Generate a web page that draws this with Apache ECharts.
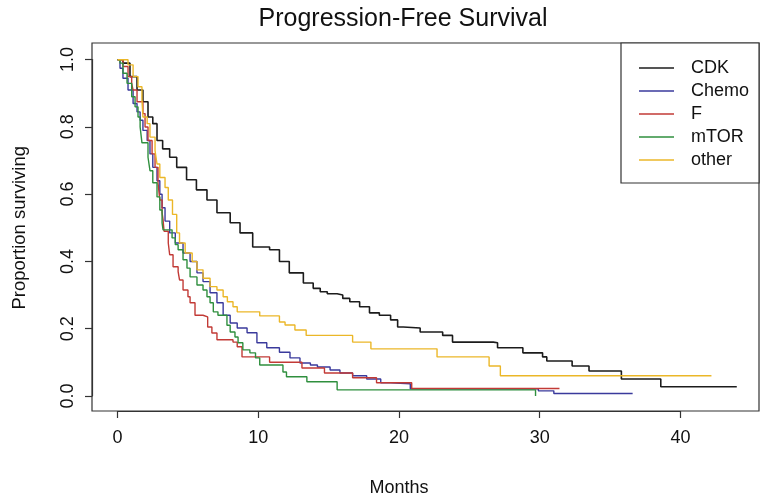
<!DOCTYPE html>
<html>
<head>
<meta charset="utf-8">
<script src="https://cdn.jsdelivr.net/npm/echarts@6/dist/echarts.min.js"></script>
<style>
html,body{margin:0;padding:0;background:#fff;}
#chart{width:767px;height:502px;}
</style>
</head>
<body>
<div id="chart"></div>
<script>
// ---- Data ----
const groupNames = ['CDK', 'Chemo', 'F', 'mTOR', 'other'];
const xTicks = [0, 10, 20, 30, 40];
const yTicks = [0.0, 0.2, 0.4, 0.6, 0.8, 1.0];

const cdkT = [0, 0.38, 0.88, 1.38, 1.8, 2.16, 2.5, 2.8, 3.2, 3.7, 4.2, 4.9, 5.6, 6.35, 7.06, 8.0, 8.7, 9.6, 10.8, 11.5, 12.2, 13.2, 13.9, 14.4, 14.9, 15.6, 16.0, 16.5, 17.2, 17.9, 18.6, 19.4, 19.9, 20.3, 21.5, 23.1, 23.8, 26.7, 27.0, 28.8, 30.2, 30.5, 32.3, 33.5, 35.8, 38.6, 44.0];
const cdkS = [1.0, 0.99, 0.95, 0.91, 0.875, 0.83, 0.81, 0.76, 0.735, 0.71, 0.68, 0.643, 0.613, 0.583, 0.545, 0.515, 0.485, 0.443, 0.435, 0.40, 0.366, 0.336, 0.32, 0.31, 0.304, 0.30, 0.29, 0.28, 0.265, 0.247, 0.24, 0.226, 0.205, 0.202, 0.19, 0.18, 0.16, 0.158, 0.143, 0.128, 0.116, 0.104, 0.089, 0.074, 0.05, 0.027, 0.027];

const chemoT = [0, 0.17, 0.38, 0.74, 1.1, 1.38, 1.6, 1.8, 2.1, 2.3, 2.5, 2.8, 3.0, 3.16, 3.37, 3.7, 4.1, 4.65, 5.15, 5.64, 6.07, 6.57, 7.06, 7.5, 8.0, 8.5, 9.2, 9.9, 10.6, 11.5, 12.25, 12.96, 13.7, 14.2, 15.1, 15.8, 16.7, 17.7, 18.7, 19.4, 20.8, 29.9, 31.0, 36.6];
const chemoS = [1.0, 0.975, 0.945, 0.91, 0.87, 0.845, 0.82, 0.79, 0.76, 0.72, 0.68, 0.64, 0.60, 0.56, 0.52, 0.485, 0.455, 0.425, 0.40, 0.366, 0.34, 0.307, 0.277, 0.24, 0.217, 0.202, 0.188, 0.158, 0.143, 0.13, 0.113, 0.098, 0.092, 0.086, 0.077, 0.068, 0.06, 0.05, 0.039, 0.036, 0.021, 0.015, 0.007, 0.007];

const fT = [0, 0.38, 0.74, 1.0, 1.1, 1.38, 1.8, 1.95, 2.16, 2.45, 2.66, 2.87, 3.0, 3.16, 3.23, 3.3, 3.6, 3.7, 3.94, 4.3, 4.4, 4.65, 5.0, 5.15, 5.5, 6.07, 6.4, 6.7, 7.06, 8.2, 8.5, 8.84, 10.8, 13.1, 14.7, 16.7, 18.4, 20.9, 31.4];
const fS = [1.0, 0.98, 0.95, 0.93, 0.91, 0.875, 0.84, 0.80, 0.76, 0.72, 0.68, 0.634, 0.583, 0.545, 0.524, 0.49, 0.455, 0.42, 0.384, 0.37, 0.345, 0.315, 0.295, 0.277, 0.24, 0.235, 0.205, 0.187, 0.167, 0.16, 0.146, 0.116, 0.10, 0.083, 0.068, 0.054, 0.039, 0.022, 0.022];

const mtorT = [0, 0.17, 0.38, 0.67, 1.0, 1.24, 1.45, 1.6, 1.73, 2.16, 2.3, 2.5, 2.8, 3.0, 3.16, 3.23, 3.87, 4.1, 4.3, 4.65, 4.93, 5.15, 5.64, 6.07, 6.35, 6.57, 6.8, 7.13, 7.77, 8.0, 8.34, 8.56, 8.9, 9.4, 9.8, 10.1, 11.75, 12.0, 13.45, 15.6, 29.7, 29.7];
const mtorS = [1.0, 0.99, 0.96, 0.93, 0.89, 0.86, 0.83, 0.80, 0.753, 0.71, 0.67, 0.634, 0.592, 0.553, 0.515, 0.494, 0.47, 0.45, 0.435, 0.405, 0.38, 0.354, 0.33, 0.315, 0.295, 0.277, 0.25, 0.24, 0.21, 0.19, 0.175, 0.158, 0.137, 0.128, 0.113, 0.092, 0.071, 0.057, 0.042, 0.018, 0.018, 0.0];

const otherT = [0, 0.38, 0.74, 1.1, 1.45, 1.73, 1.8, 2.1, 2.3, 2.66, 2.8, 3.0, 3.37, 3.6, 3.9, 4.2, 4.4, 4.8, 5.3, 5.64, 6.07, 6.57, 7.06, 7.5, 7.8, 8.2, 8.5, 10.1, 11.5, 11.9, 12.6, 13.4, 16.7, 18.0, 22.7, 26.4, 27.2, 42.2];
const otherS = [1.0, 1.0, 0.985, 0.95, 0.92, 0.88, 0.83, 0.81, 0.77, 0.73, 0.69, 0.65, 0.62, 0.583, 0.54, 0.485, 0.455, 0.425, 0.40, 0.375, 0.35, 0.325, 0.315, 0.295, 0.28, 0.265, 0.25, 0.238, 0.22, 0.211, 0.196, 0.18, 0.16, 0.14, 0.116, 0.089, 0.06, 0.06];

const seriesT = [cdkT, chemoT, fT, mtorT, otherT];
const seriesS = [cdkS, chemoS, fS, mtorS, otherS];
const colors = ['#1c1c1c', '#3a3a9c', '#c23a36', '#2f8f3e', '#ebb728'];

const FONT = '"Liberation Sans", Arial, Helvetica, sans-serif';

function zip(t, s) { return t.map((v, i) => [v, s[i]]); }

const series = groupNames.map((name, i) => ({
  name: name,
  type: 'line',
  xAxisIndex: 0,
  yAxisIndex: 0,
  step: 'end',
  symbol: 'none',
  data: zip(seriesT[i], seriesS[i]),
  lineStyle: { color: colors[i], width: i === 0 ? 1.6 : 1.4 },
  itemStyle: { color: colors[i] },
  emphasis: { disabled: true }
}));

const chart = echarts.init(document.getElementById('chart'), null, { renderer: 'canvas' });
chart.setOption({
  animation: false,
  backgroundColor: '#ffffff',
  title: {
    text: 'Progression-Free Survival',
    left: 398,
    top: 2,
    textAlign: 'center',
    textStyle: { fontFamily: FONT, fontSize: 25, fontWeight: 'normal', color: '#111' }
  },
  legend: {
    orient: 'vertical',
    left: 621,
    top: 43,
    data: groupNames,
    icon: 'rect',
    itemWidth: 35,
    itemHeight: 1.5,
    itemGap: 5,
    padding: [16, 10, 14, 18],
    borderColor: '#333',
    borderWidth: 1.2,
    backgroundColor: '#fff',
    selectedMode: false,
    textStyle: { fontFamily: FONT, fontSize: 18, color: '#111', padding: [0, 0, 0, 12], lineHeight: 18, height: 18 }
  },
  grid: [
    { left: 92, top: 43, width: 667, height: 368, show: true, borderColor: '#333', borderWidth: 1.2, backgroundColor: 'transparent' },
    { left: 117.6, top: 59.5, width: 562.8, height: 336.5, show: false }
  ],
  xAxis: [
    { gridIndex: 0, type: 'value', min: -1.82, max: 45.58, show: false },
    {
      gridIndex: 1, type: 'value', min: 0, max: 40, interval: 10, position: 'bottom', offset: 15,
      axisLine: { show: true, onZero: false, lineStyle: { color: '#333', width: 1.2 } },
      axisTick: { show: true, length: 7, lineStyle: { color: '#333', width: 1.2 } },
      axisLabel: { margin: 18, fontFamily: FONT, fontSize: 18, color: '#111', formatter: v => xTicks.includes(v) ? String(v) : '' },
      splitLine: { show: false },
      name: 'Months', nameLocation: 'middle', nameGap: 68,
      nameTextStyle: { fontFamily: FONT, fontSize: 18, color: '#111' }
    }
  ],
  yAxis: [
    { gridIndex: 0, type: 'value', min: -0.045, max: 1.05, show: false },
    {
      gridIndex: 1, type: 'value', min: 0, max: 1, interval: 0.2, position: 'left', offset: 25.6,
      axisLine: { show: true, onZero: false, lineStyle: { color: '#333', width: 1.2 } },
      axisTick: { show: true, length: 7, lineStyle: { color: '#333', width: 1.2 } },
      axisLabel: { margin: 15, rotate: 90, fontFamily: FONT, fontSize: 18, color: '#111', formatter: v => yTicks.some(t => Math.abs(t - v) < 1e-9) ? v.toFixed(1) : '' },
      splitLine: { show: false },
      name: 'Proportion surviving', nameLocation: 'middle', nameGap: 63, nameRotate: 90,
      nameTextStyle: { fontFamily: FONT, fontSize: 18.5, color: '#111' }
    }
  ],
  series: series
});
</script>
</body>
</html>
